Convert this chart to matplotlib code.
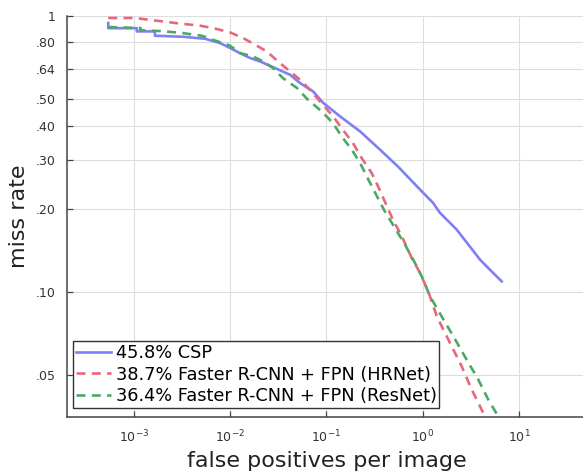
import numpy as np
import matplotlib
matplotlib.use("Agg")
import matplotlib.pyplot as plt

# miss rate vs. false positives per image
csp_fppi = [5.4e-4, 5.4e-4, 1.07e-3, 1.07e-3, 1.65e-3, 1.65e-3, 3.2e-3, 5.47e-3,
            7.82e-3, 9.94e-3, 1.26e-2, 1.60e-2, 2.04e-2, 2.92e-2, 4.18e-2,
            5.31e-2, 7.24e-2, 9.20e-2, 0.138, 0.223, 0.360, 0.553, 0.976,
            1.278, 1.51, 2.25, 3.94, 5.00, 6.61]
csp_mr = [0.941, 0.901, 0.901, 0.877, 0.877, 0.846, 0.839, 0.825,
          0.796, 0.764, 0.732, 0.703, 0.683, 0.646, 0.611,
          0.570, 0.532, 0.484, 0.432, 0.381, 0.327, 0.284, 0.231,
          0.210, 0.193, 0.168, 0.1306, 0.120, 0.109]

hrnet_fppi = [5.4e-4, 1.02e-3, 1.94e-3, 3.13e-3, 4.85e-3, 6.62e-3, 9.94e-3,
              1.36e-2, 1.81e-2, 2.39e-2, 3.13e-2, 3.98e-2, 5.31e-2, 6.74e-2,
              8.56e-2, 0.117, 0.148, 0.188, 0.232, 0.295, 0.343, 0.491,
              0.604, 0.768, 0.936, 1.14, 1.40, 1.92, 2.54, 3.23, 4.43]
hrnet_mr = [0.981, 0.981, 0.954, 0.935, 0.920, 0.902, 0.870,
            0.830, 0.785, 0.743, 0.683, 0.637, 0.586, 0.539,
            0.489, 0.432, 0.386, 0.346, 0.305, 0.269, 0.241, 0.182,
            0.159, 0.1325, 0.117, 0.1003, 0.0814, 0.0652, 0.0536, 0.0442, 0.0353]

resnet_fppi = [5.4e-4, 1.17e-3, 1.17e-3, 1.86e-3, 3.13e-3, 5.05e-3, 6.62e-3,
               9.94e-3, 1.26e-2, 1.72e-2, 2.19e-2, 2.78e-2, 3.53e-2, 4.94e-2,
               6.27e-2, 8.91e-2, 0.117, 0.144, 0.183, 0.223, 0.272, 0.405,
               0.515, 0.654, 0.798, 0.976, 1.19, 1.57, 2.08, 2.86, 3.78, 4.80, 6.10]
resnet_mr = [0.910, 0.902, 0.885, 0.880, 0.866, 0.846, 0.818,
             0.779, 0.732, 0.712, 0.683, 0.646, 0.594, 0.547,
             0.500, 0.450, 0.408, 0.365, 0.327, 0.293, 0.255, 0.195,
             0.170, 0.148, 0.1305, 0.1136, 0.0962, 0.0814, 0.0689, 0.0567, 0.048, 0.0406, 0.0353]

labels = ["45.8% CSP",
          "38.7% Faster R-CNN + FPN (HRNet)",
          "36.4% Faster R-CNN + FPN (ResNet)"]

y_ticks = [0.05, 0.10, 0.20, 0.30, 0.40, 0.50, 0.64, 0.80, 1.0]
y_ticklabels = [".05", ".10", ".20", ".30", ".40", ".50", ".64", ".80", "1"]
x_ticks = [1e-3, 1e-2, 1e-1, 1e0, 1e1]
x_ticklabels = [r"$10^{-3}$", r"$10^{-2}$", r"$10^{-1}$", r"$10^{0}$", r"$10^{1}$"]

fig = plt.figure(figsize=(5.83, 4.74), dpi=100)
ax = fig.add_axes([0.1144, 0.1192, 0.8912, 0.8477])

lw = 1.9
ax.plot(csp_fppi, csp_mr, color="#7f7ff7", lw=lw, label=labels[0])
ax.plot(hrnet_fppi, hrnet_mr, color="#e8677a", lw=lw, dashes=(3.4, 2.4), label=labels[1])
ax.plot(resnet_fppi, resnet_mr, color="#4ea865", lw=lw, dashes=(3.4, 2.4), label=labels[2])

ax.set_xscale("log")
ax.set_yscale("log")
ax.set_xlim(10 ** -3.699, 10 ** 1.699)
ax.set_ylim(0.035, 1.0)

ax.set_xticks(x_ticks)
ax.set_xticklabels(x_ticklabels)
ax.set_yticks(y_ticks)
ax.set_yticklabels(y_ticklabels)
ax.minorticks_off()

ax.grid(True, color="#dddddd", lw=0.8)
ax.set_axisbelow(True)
for s in ["top", "right"]:
    ax.spines[s].set_visible(False)
for s in ["left", "bottom"]:
    ax.spines[s].set_color("#444444")
    ax.spines[s].set_linewidth(1.1)

ax.tick_params(axis="both", direction="in", length=4, width=0.9, color="#444444",
               labelsize=9, labelcolor="#333333")
ax.tick_params(axis="y", pad=8)
ax.tick_params(axis="x", pad=8)

ax.set_xlabel("false positives per image", fontsize=16, color="#222222")
ax.set_ylabel("miss rate", fontsize=16, color="#222222")
ax.xaxis.set_label_coords(0.5, -0.083)
ax.yaxis.set_label_coords(-0.072, 0.5)

leg = ax.legend(loc="lower left", bbox_to_anchor=(0.012, 0.024), borderaxespad=0,
                fontsize=12.8, handlelength=2.0, handletextpad=0.25,
                labelspacing=0.2, borderpad=0.15, fancybox=False, framealpha=1)
leg.get_frame().set_edgecolor("#333333")
leg.get_frame().set_linewidth(1.0)

fig.savefig("out.png", dpi=100)
